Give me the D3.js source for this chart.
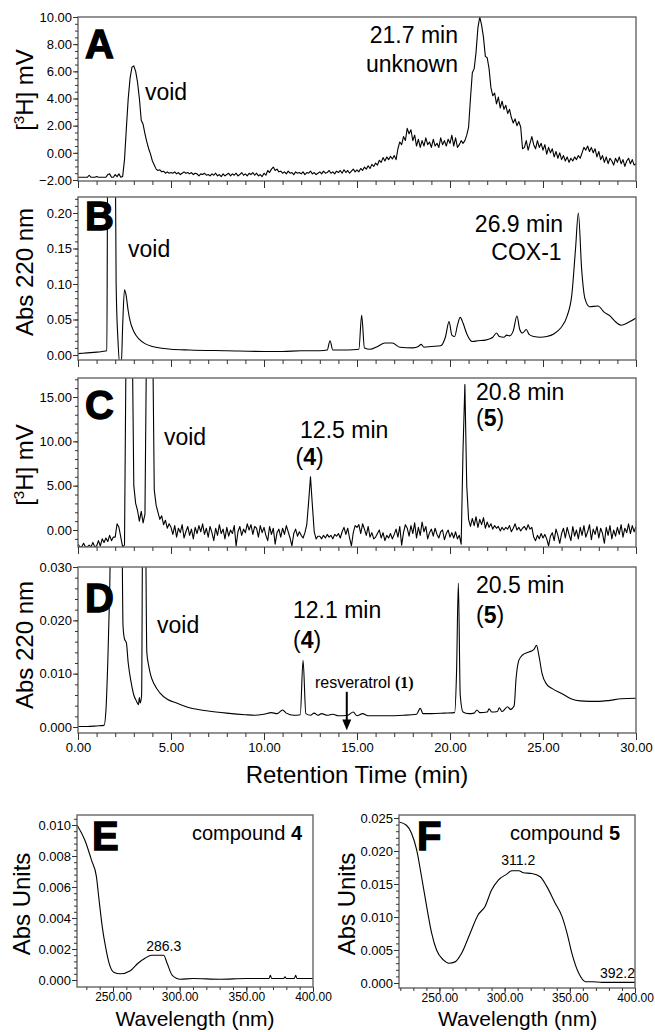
<!DOCTYPE html>
<html>
<head>
<meta charset="utf-8">
<script src="https://cdn.jsdelivr.net/npm/d3@7"></script>
<style>
  body { margin: 0; background: #fff; }
  text { font-family: "Liberation Sans", Arial, sans-serif; }
</style>
</head>
<body>
<svg id="fig"></svg>
<script>
// ---- data ----

// A: [3H] radio trace, one reading every 0.1 min (0 - 30 min)
var sampleMin = 0.1;
var signalA = [
  -1.8,-1.8,-1.8,-1.8,-1.8,-1.8,-1.65,-1.8,-1.8,-1.8,
  -1.75,-1.8,-1.8,-1.8,-1.8,-1.8,-1.6,-1.55,-1.8,-1.8,
  -1.6,-1.75,-1.55,-1.8,-1.75,-0.5,1.8,4.0,5.5,6.3,
  6.4,6.0,5.2,4.0,2.4,2.1,1.4,0.8,0.3,-0.1,
  -0.6,-0.9,-1.2,-1.3,-1.25,-1.4,-1.35,-1.5,-1.4,-1.5,
  -1.45,-1.5,-1.4,-1.55,-1.45,-1.6,-1.5,-1.4,-1.5,-1.45,
  -1.55,-1.45,-1.6,-1.5,-1.55,-1.7,-1.55,-1.6,-1.5,-1.65,
  -1.6,-1.7,-1.55,-1.65,-1.5,-1.7,-1.6,-1.75,-1.55,-1.7,
  -1.6,-1.5,-1.7,-1.55,-1.65,-1.5,-1.7,-1.6,-1.45,-1.65,
  -1.55,-1.7,-1.5,-1.6,-1.45,-1.65,-1.5,-1.7,-1.6,-1.75,
  -1.5,-1.65,-1.3,-1.45,-1.2,-1.05,-1.3,-1.2,-1.4,-1.35,
  -1.5,-1.4,-1.55,-1.35,-1.5,-1.45,-1.6,-1.4,-1.5,-1.45,
  -1.55,-1.4,-1.6,-1.45,-1.5,-1.35,-1.55,-1.45,-1.6,-1.5,
  -1.4,-1.55,-1.35,-1.5,-1.45,-1.3,-1.5,-1.4,-1.55,-1.35,
  -1.45,-1.3,-1.5,-1.25,-1.45,-1.3,-1.5,-1.35,-1.2,-1.4,
  -1.25,-1.4,-1.15,-1.3,-1.05,-1.2,-0.95,-1.15,-0.85,-1.0,
  -0.75,-0.9,-0.55,-0.7,-0.35,-0.6,-0.3,-0.5,-0.25,-0.45,
  -0.2,-0.5,0.3,0.8,0.6,1.2,0.9,1.8,1.4,1.7,
  0.9,1.3,0.5,1.0,0.4,0.9,0.5,1.1,0.6,0.8,
  0.4,1.0,0.5,0.7,0.4,1.1,0.6,0.9,0.5,1.0,
  0.7,1.3,0.5,1.1,0.4,0.6,0.9,0.7,0.9,1.3,
  1.9,4.0,5.9,6.2,7.4,9.2,10.0,9.4,8.5,7.1,
  7.0,6.2,4.8,4.2,4.4,3.6,4.1,3.3,3.8,3.2,
  3.5,2.9,3.2,2.6,2.2,2.5,2.0,2.3,1.9,0.3,
  0.4,0.9,0.2,0.7,1.2,0.6,0.3,0.9,0.4,0.7,
  0.2,0.6,-0.1,0.4,0.0,0.3,-0.3,0.1,-0.4,0.0,
  -0.5,-0.2,-0.6,-0.3,-0.7,-0.4,-0.6,-0.3,-0.5,-0.2,
  -0.4,0.0,0.4,0.2,0.5,0.1,0.4,0.0,0.3,-0.3,
  0.1,-0.5,-0.2,-0.7,-0.3,-0.8,-0.4,-0.6,-0.9,-0.4,
  -0.7,-0.3,-0.8,-0.5,-1.0,-0.6,-0.4,-0.8,-0.5,-0.9,
  -0.8
];

// B: Abs 220 nm, [min, AU] (values above the frame run off scale)
var traceB = [
  [0,0.002],[0.5,0.003],[1.0,0.004],[1.3,0.005],[1.55,0.006],[1.6,0.3],[2.0,0.3],
  [2.05,0.1],[2.15,0.02],[2.25,-0.012],[2.33,-0.012],[2.4,0.04],[2.5,0.092],[2.58,0.085],
  [2.7,0.062],[2.8,0.048],[3.0,0.033],[3.3,0.022],[3.6,0.016],[4.0,0.012],[4.5,0.0095],
  [5.0,0.008],[6.0,0.007],[8.0,0.006],[10.0,0.005],[11.0,0.005],[12.0,0.006],[13.0,0.006],
  [13.4,0.007],[13.55,0.02],[13.7,0.007],[14.5,0.007],[15.1,0.008],[15.25,0.056],[15.4,0.01],
  [15.7,0.008],[16.1,0.012],[16.5,0.017],[16.9,0.017],[17.3,0.011],[18.0,0.010],[18.3,0.012],
  [18.45,0.015],[18.6,0.011],[19.0,0.012],[19.5,0.013],[19.75,0.025],[19.95,0.047],[20.1,0.028],
  [20.25,0.026],[20.4,0.042],[20.55,0.053],[20.7,0.045],[20.9,0.03],[21.2,0.019],[21.5,0.02],
  [21.9,0.021],[22.15,0.023],[22.3,0.025],[22.5,0.031],[22.65,0.026],[22.9,0.025],[23.05,0.028],
  [23.2,0.027],[23.4,0.034],[23.6,0.055],[23.75,0.036],[23.9,0.031],[24.1,0.036],[24.25,0.029],
  [24.5,0.026],[24.85,0.025],[25.2,0.026],[25.6,0.03],[25.95,0.038],[26.3,0.055],[26.55,0.085],
  [26.75,0.15],[26.9,0.2],[27.08,0.12],[27.25,0.08],[27.5,0.068],[27.95,0.069],[28.3,0.06],
  [28.6,0.055],[28.85,0.048],[29.2,0.042],[29.6,0.046],[30.0,0.052]
];

// C: [3H] radio trace, one reading every 0.1 min (off-scale void peaks drawn at 25)
var signalC = [
  -1.6,-1.9,-1.9,-1.5,-1.9,-1.9,-1.7,-1.9,-1.4,-1.9,
  -1.8,-1.2,-1.8,-1.0,-1.4,-0.9,-1.3,-0.6,-1.2,-0.8,
  -0.8,0.7,0.3,-0.8,-1.9,-1.7,25,25,25,25,
  5.0,3.0,2.2,1.0,2.1,0.8,1.8,25,25,25,
  25,4.5,2.8,2.0,1.2,1.6,0.6,1.1,0.2,0.7,
  0.3,-0.5,0.5,-0.8,0.2,-0.3,0.6,-0.9,-0.2,0.4,
  -0.6,0.1,-1.0,0.3,-0.4,0.5,-0.2,0.7,-0.5,0.2,
  -0.8,0.4,-0.3,-1.2,0.2,-0.6,0.6,-0.4,0.1,-1.0,
  0.3,-0.7,0.0,-0.4,0.5,-1.8,-0.2,0.4,-0.6,0.1,
  -0.3,0.7,0.0,0.6,-0.5,0.4,0.2,-0.8,0.5,-0.3,
  0.3,-0.6,-1.2,0.4,-0.5,0.2,-1.6,-0.3,0.1,-0.8,
  0.2,-0.5,0.5,-0.2,-0.9,-1.8,-0.4,0.1,-0.7,-0.2,
  -0.6,-0.9,-0.3,0.6,3.2,6.0,2.8,-0.2,-1.0,-0.7,
  -0.7,-1.0,-0.6,-0.9,-0.5,-0.8,-0.6,-1.0,-0.5,-0.7,
  -0.4,-0.9,-0.2,0.3,-0.5,0.2,-0.9,-1.8,-0.3,0.5,
  0.3,0.6,-0.4,0.7,0.1,-0.6,0.4,-0.8,-0.3,-1.0,
  -0.8,-0.4,0.0,-0.9,-0.3,-1.2,-0.6,-0.9,-0.4,-1.0,
  -0.5,0.1,-0.8,0.4,-1.7,-0.3,0.6,0.2,-0.7,0.5,
  -0.4,0.8,-0.9,0.3,-0.6,0.9,-0.2,0.4,-1.0,-0.3,
  0.1,-0.7,0.2,-0.5,-0.9,-0.2,0.0,-1.1,-0.4,0.0,
  -0.8,-0.3,-0.9,-0.2,-1.0,-0.6,-1.6,9.0,16.4,5.0,
  1.2,0.4,1.3,0.5,1.5,0.3,1.2,0.6,1.4,0.2,
  0.9,0.3,0.7,0.1,0.5,0.2,0.4,-0.1,0.3,0.0,
  0.3,0.1,0.5,-0.2,0.2,0.7,0.0,0.3,-0.1,0.2,
  0.4,0.0,0.6,0.1,0.3,-0.8,-1.2,-0.6,-1.0,-0.4,
  -0.9,-0.5,-1.0,-1.8,-0.7,-0.3,-1.2,0.1,-0.6,-1.5,
  -0.4,0.2,-0.9,0.3,-0.5,-1.2,0.4,-0.7,0.0,-1.0,
  0.3,-0.6,0.5,-0.8,-0.2,0.6,-1.1,0.1,-0.5,0.4,
  -0.9,0.2,-0.4,-1.5,0.3,-0.6,0.5,-1.0,0.0,-0.7,
  0.3,-0.5,0.6,-0.8,0.2,-0.3,0.7,-0.4,0.5,-0.2,
  0.4
];

// D: Abs 220 nm, [min, AU]
var traceD = [
  [0,0.0001],[0.5,0.0001],[1.0,0.0002],[1.4,0.0003],[1.5,0.003],[1.6,0.012],[1.7,0.025],
  [1.78,0.04],[2.35,0.04],[2.42,0.019],[2.5,0.0165],[2.6,0.0158],[2.7,0.012],[2.85,0.0085],
  [3.0,0.006],[3.15,0.0048],[3.25,0.0042],[3.3,0.0055],[3.35,0.0045],[3.42,0.006],[3.48,0.04],
  [3.62,0.04],[3.7,0.014],[3.8,0.0115],[3.9,0.0098],[4.1,0.008],[4.4,0.0064],[4.8,0.0052],
  [5.3,0.0045],[6.0,0.0036],[7.0,0.003],[8.0,0.0026],[9.0,0.0023],[9.5,0.0022],[10.0,0.0024],
  [10.4,0.0027],[10.7,0.0025],[11.0,0.0032],[11.2,0.0026],[11.6,0.0022],[11.95,0.0023],
  [12.1,0.0125],[12.25,0.0025],[12.5,0.0022],[12.7,0.0026],[12.9,0.0022],[13.1,0.0025],
  [13.4,0.0022],[13.7,0.0024],[14.0,0.0021],[14.5,0.0022],[14.8,0.0028],[15.0,0.0021],
  [15.3,0.0025],[15.6,0.0021],[16.5,0.0021],[17.5,0.0022],[18.2,0.0024],[18.4,0.0035],
  [18.55,0.0025],[19.0,0.0025],[19.7,0.0026],[20.25,0.0027],[20.35,0.01],[20.45,0.027],
  [20.55,0.006],[20.7,0.0028],[21.0,0.0025],[21.3,0.0026],[21.45,0.0032],[21.6,0.0027],
  [22.0,0.0028],[22.1,0.0034],[22.25,0.0028],[22.55,0.0029],[22.65,0.0036],[22.8,0.0029],
  [23.1,0.0038],[23.25,0.0033],[23.45,0.004],[23.55,0.009],[23.7,0.0125],[23.9,0.0135],
  [24.2,0.014],[24.5,0.0145],[24.65,0.0153],[24.8,0.013],[24.95,0.01],[25.2,0.008],
  [25.5,0.0072],[26.0,0.0063],[26.5,0.0053],[27.0,0.0049],[28.0,0.0048],[28.6,0.005],
  [29.2,0.0053],[30.0,0.0054]
];
var resveratrolTime = 14.45;

// E, F: UV spectra, [nm, AU]
var spectrumE = [
  [223,0.0100],[229,0.0090],[234,0.0077],[237.5,0.0067],[239.5,0.0052],[242,0.0034],
  [244.5,0.0021],[247,0.0011],[250.5,0.0005],[255.5,0.0004],[263,0.0006],[269,0.0011],
  [274,0.0014],[279,0.0016],[283,0.0016],[288,0.0016],[290.5,0.0011],[294.5,0.0003],
  [300.5,0.00005],[310,0.0001],[330,0.00005],[350,0.0001],[367,0.0001],[368,0.0003],
  [369,0.0001],[378,0.0001],[379,0.0002],[380,0.0001],[386,0.0001],[387,0.0003],
  [388,0.0001],[400,0.0001]
];
var spectrumF = [
  [219,0.0244],[224.7,0.0239],[228.6,0.0227],[232.5,0.0202],[236.3,0.0161],[240.2,0.0116],
  [244,0.0076],[247.8,0.005],[253,0.0035],[257.3,0.003],[262,0.0032],[267,0.0045],
  [273.5,0.0075],[279.6,0.0103],[285,0.0116],[290,0.0141],[295.2,0.0156],[301.6,0.0165],
  [305.5,0.0170],[311,0.0170],[314.4,0.0167],[320.8,0.0166],[327.3,0.0161],[332.4,0.0146],
  [338.8,0.0121],[344,0.0101],[347.8,0.0076],[351.6,0.0045],[356.8,0.0015],[362,0.0002],
  [367,0.0002],[374.8,0.0001],[400,0.0001]
];

// tick labels
var timeTicks = [0, 5, 10, 15, 20, 25, 30];
var ticksA = [-2, 0, 2, 4, 6, 8, 10];
var ticksB = [0, 0.05, 0.10, 0.15, 0.20];
var ticksC = [0, 5, 10, 15];
var ticksD = [0, 0.010, 0.020, 0.030];
var ticksE = [0, 0.002, 0.004, 0.006, 0.008, 0.010];
var ticksF = [0, 0.005, 0.010, 0.015, 0.020, 0.025];
var waveTicks = [250, 300, 350, 400];

// ---- drawing ----
var svg = d3.select("svg#fig").attr("width", 655).attr("height", 1032);
svg.append("rect").attr("width", 655).attr("height", 1032).attr("fill", "#fff");

var xTime = d3.scaleLinear().domain([0, 30]).range([78, 636]);

function sampled(values) {
  return values.map(function (v, i) { return [i * sampleMin, v]; });
}

function drawPanel(p) {
  var g = svg.append("g");
  var x0 = p.x.range()[0], x1 = p.x.range()[1];

  svg.append("clipPath").attr("id", "clip-" + p.name)
    .append("rect")
    .attr("x", x0).attr("y", p.top)
    .attr("width", x1 - x0).attr("height", p.bottom - p.top);

  var line = d3.line()
    .x(function (d) { return p.x(d[0]); })
    .y(function (d) { return p.y(d[1]); })
    .curve(p.curve || d3.curveLinear);

  g.append("path")
    .datum(p.data)
    .attr("clip-path", "url(#clip-" + p.name + ")")
    .attr("d", line)
    .attr("fill", "none")
    .attr("stroke", "#000")
    .attr("stroke-width", 1.1)
    .attr("stroke-linejoin", "round");

  // frame
  g.append("rect")
    .attr("x", x0).attr("y", p.top)
    .attr("width", x1 - x0).attr("height", p.bottom - p.top)
    .attr("fill", "none").attr("stroke", "#666").attr("stroke-width", 1.4);

  // y axis
  var yMinor = g.append("g").attr("transform", "translate(" + x0 + ",0)")
    .call(d3.axisLeft(p.y).tickValues(p.yMinor).tickSize(3).tickFormat(""));
  var yMajor = g.append("g").attr("transform", "translate(" + x0 + ",0)")
    .call(d3.axisLeft(p.y).tickValues(p.yTicks).tickSize(5).tickPadding(1)
      .tickFormat(d3.format(p.yFmt)));

  // x axis ticks hanging under the frame
  var xMinor = g.append("g").attr("transform", "translate(0," + p.bottom + ")")
    .call(d3.axisBottom(p.x).tickValues(p.xMinor).tickSize(p.xMinorTick || 4).tickFormat(""));
  var xMajor = g.append("g").attr("transform", "translate(0," + p.bottom + ")")
    .call(d3.axisBottom(p.x).tickValues(p.xTicks).tickSize(p.xTick || 7).tickPadding(p.xPad || 3)
      .tickFormat(p.xLabels ? d3.format(".2f") : ""));

  [yMinor, yMajor, xMinor, xMajor].forEach(function (a) {
    a.select(".domain").remove();
    a.selectAll("line").attr("stroke", "#333");
    a.selectAll("text").attr("font-size", 13).attr("fill", "#000")
      .attr("font-family", "Liberation Sans, Arial, sans-serif");
  });
  if (p.xFont) xMajor.selectAll("text").attr("font-size", p.xFont);

  // big panel letter
  g.append("text")
    .attr("x", x0 + p.letterDx).attr("y", p.top + p.letterDy)
    .attr("font-size", 40).attr("font-weight", "bold")
    .attr("stroke", "#000").attr("stroke-width", 1.3)
    .text(p.name);

  // y title
  var t = g.append("text")
    .attr("transform", "translate(" + p.titleX + "," + p.titleY + ") rotate(-90)")
    .attr("text-anchor", "middle").attr("font-size", 24);
  if (p.title === "[3H] mV") {
    t.append("tspan").text("[");
    t.append("tspan").attr("font-size", 15).attr("dy", -9).text("3");
    t.append("tspan").attr("dy", 9).text("H] mV");
  } else {
    t.text(p.title);
  }
  return g;
}

function note(g, x, y, parts, size, anchor) {
  var t = g.append("text").attr("x", x).attr("y", y)
    .attr("font-size", size || 23)
    .attr("text-anchor", anchor || "start");
  parts.forEach(function (s) {
    if (typeof s === "string") t.append("tspan").text(s);
    else t.append("tspan").attr("font-weight", "bold").attr("font-family", s.serif ? "Liberation Serif, serif" : null).text(s.b);
  });
  return t;
}

var minutes = d3.range(0, 31, 1);

// Panel A
var yA = d3.scaleLinear().domain([-2, 10]).range([180, 17]);
var gA = drawPanel({
  name: "A", x: xTime, y: yA, top: 17, bottom: 181, data: sampled(signalA),
  yTicks: ticksA, yMinor: d3.range(-2, 10.01, 0.5), yFmt: ".2f",
  xTicks: timeTicks, xMinor: minutes, xLabels: false,
  letterDx: 7, letterDy: 41, title: "[3H] mV", titleX: 33, titleY: 90
});
note(gA, xTime(3.6), yA(3.9), ["void"]);
note(gA, xTime(20.43), yA(8.09), ["21.7 min"], 23, "end");
note(gA, xTime(20.43), yA(5.95), ["unknown"], 23, "end");

// Panel B
var yB = d3.scaleLinear().domain([0, 0.2]).range([355, 213]);
var gB = drawPanel({
  name: "B", x: xTime, y: yB, top: 197, bottom: 360, data: traceB, curve: d3.curveMonotoneX,
  yTicks: ticksB, yMinor: d3.range(0, 0.2201, 0.01), yFmt: ".2f",
  xTicks: timeTicks, xMinor: minutes, xLabels: false,
  letterDx: 7, letterDy: 33, title: "Abs 220 nm", titleX: 33, titleY: 272
});
note(gB, xTime(2.69), yB(0.138), ["void"]);
note(gB, xTime(26.08), yB(0.173), ["26.9 min"], 23, "end");
note(gB, xTime(26.0), yB(0.134), ["COX-1"], 23, "end");

// Panel C
var yC = d3.scaleLinear().domain([0, 15]).range([530, 397]);
var gC = drawPanel({
  name: "C", x: xTime, y: yC, top: 378, bottom: 547, data: sampled(signalC),
  yTicks: ticksC, yMinor: d3.range(-1, 17.01, 1), yFmt: ".2f",
  xTicks: timeTicks, xMinor: minutes, xLabels: false,
  letterDx: 7, letterDy: 41, title: "[3H] mV", titleX: 33, titleY: 465
});
note(gC, xTime(4.62), yC(9.58), ["void"]);
note(gC, xTime(11.94), yC(10.37), ["12.5 min"]);
note(gC, xTime(11.7), yC(7.33), ["(", {b: "4"}, ")"]);
note(gC, xTime(21.4), yC(14.66), ["20.8 min"]);
note(gC, xTime(21.4), yC(11.72), ["(", {b: "5"}, ")"]);

// Panel D
var yD = d3.scaleLinear().domain([0, 0.03]).range([727, 567]);
var gD = drawPanel({
  name: "D", x: xTime, y: yD, top: 567, bottom: 733, data: traceD, curve: d3.curveMonotoneX,
  yTicks: ticksD, yMinor: d3.range(0, 0.0301, 0.002), yFmt: ".3f",
  xTicks: timeTicks, xMinor: minutes, xLabels: true,
  letterDx: 7, letterDy: 45, title: "Abs 220 nm", titleX: 33, titleY: 645
});
note(gD, xTime(4.25), yD(0.0176), ["void"]);
note(gD, xTime(11.56), yD(0.0204), ["12.1 min"]);
note(gD, xTime(11.56), yD(0.0148), ["(", {b: "4"}, ")"]);
note(gD, xTime(21.4), yD(0.0251), ["20.5 min"]);
note(gD, xTime(21.4), yD(0.0195), ["(", {b: "5"}, ")"]);
note(gD, xTime(12.74), yD(0.0073), ["resveratrol ", {b: "(1)", serif: true}], 16);

// arrow to where resveratrol would elute
var ax = xTime(resveratrolTime);
gD.append("line")
  .attr("x1", ax).attr("x2", ax)
  .attr("y1", yD(0.0066)).attr("y2", yD(0.0008))
  .attr("stroke", "#000").attr("stroke-width", 2);
gD.append("path")
  .attr("d", "M" + (ax - 4.5) + "," + yD(0.0014) + "L" + (ax + 4.5) + "," + yD(0.0014) + "L" + ax + "," + yD(-0.0006) + "Z")
  .attr("fill", "#000");

gD.append("text")
  .attr("x", xTime(15)).attr("y", 783)
  .attr("text-anchor", "middle").attr("font-size", 24)
  .text("Retention Time (min)");

// Panel E
var xE = d3.scaleLinear().domain([223, 400]).range([77, 313]);
var yE = d3.scaleLinear().domain([0, 0.010]).range([980, 825]);
var gE = drawPanel({
  name: "E", x: xE, y: yE, top: 815, bottom: 987, data: spectrumE, curve: d3.curveMonotoneX,
  yTicks: ticksE, yMinor: d3.range(0, 0.0106, 0.0004), yFmt: ".3f",
  xTicks: waveTicks, xMinor: d3.range(230, 401, 10), xLabels: true,
  xPad: 0.5, xTick: 5, xMinorTick: 3, xFont: 12,
  letterDx: 15, letterDy: 35, title: "Abs Units", titleX: 30, titleY: 904
});
note(gE, xE(288), yE(0.0019), ["286.3"], 14, "middle");
note(gE, 302, 840, ["compound ", {b: "4"}], 20, "end");
gE.append("text")
  .attr("x", xE(311.5)).attr("y", 1026)
  .attr("text-anchor", "middle").attr("font-size", 21)
  .text("Wavelength (nm)");

// Panel F
var xF = d3.scaleLinear().domain([219, 400]).range([399, 635]);
var yF = d3.scaleLinear().domain([0, 0.025]).range([983, 818]);
var gF = drawPanel({
  name: "F", x: xF, y: yF, top: 815, bottom: 988, data: spectrumF, curve: d3.curveMonotoneX,
  yTicks: ticksF, yMinor: d3.range(0, 0.0256, 0.001), yFmt: ".3f",
  xTicks: waveTicks, xMinor: d3.range(220, 401, 10), xLabels: true,
  xPad: 0.5, xTick: 5, xMinorTick: 3, xFont: 12,
  letterDx: 18, letterDy: 35, title: "Abs Units", titleX: 355, titleY: 904
});
note(gF, xF(310.5), yF(0.0179), ["311.2"], 14, "middle");
note(gF, xF(400), yF(0.0008), ["392.2"], 14, "end");
note(gF, 620, 840, ["compound ", {b: "5"}], 20, "end");
gF.append("text")
  .attr("x", xF(310)).attr("y", 1026)
  .attr("text-anchor", "middle").attr("font-size", 21)
  .text("Wavelength (nm)");
</script>
</body>
</html>
